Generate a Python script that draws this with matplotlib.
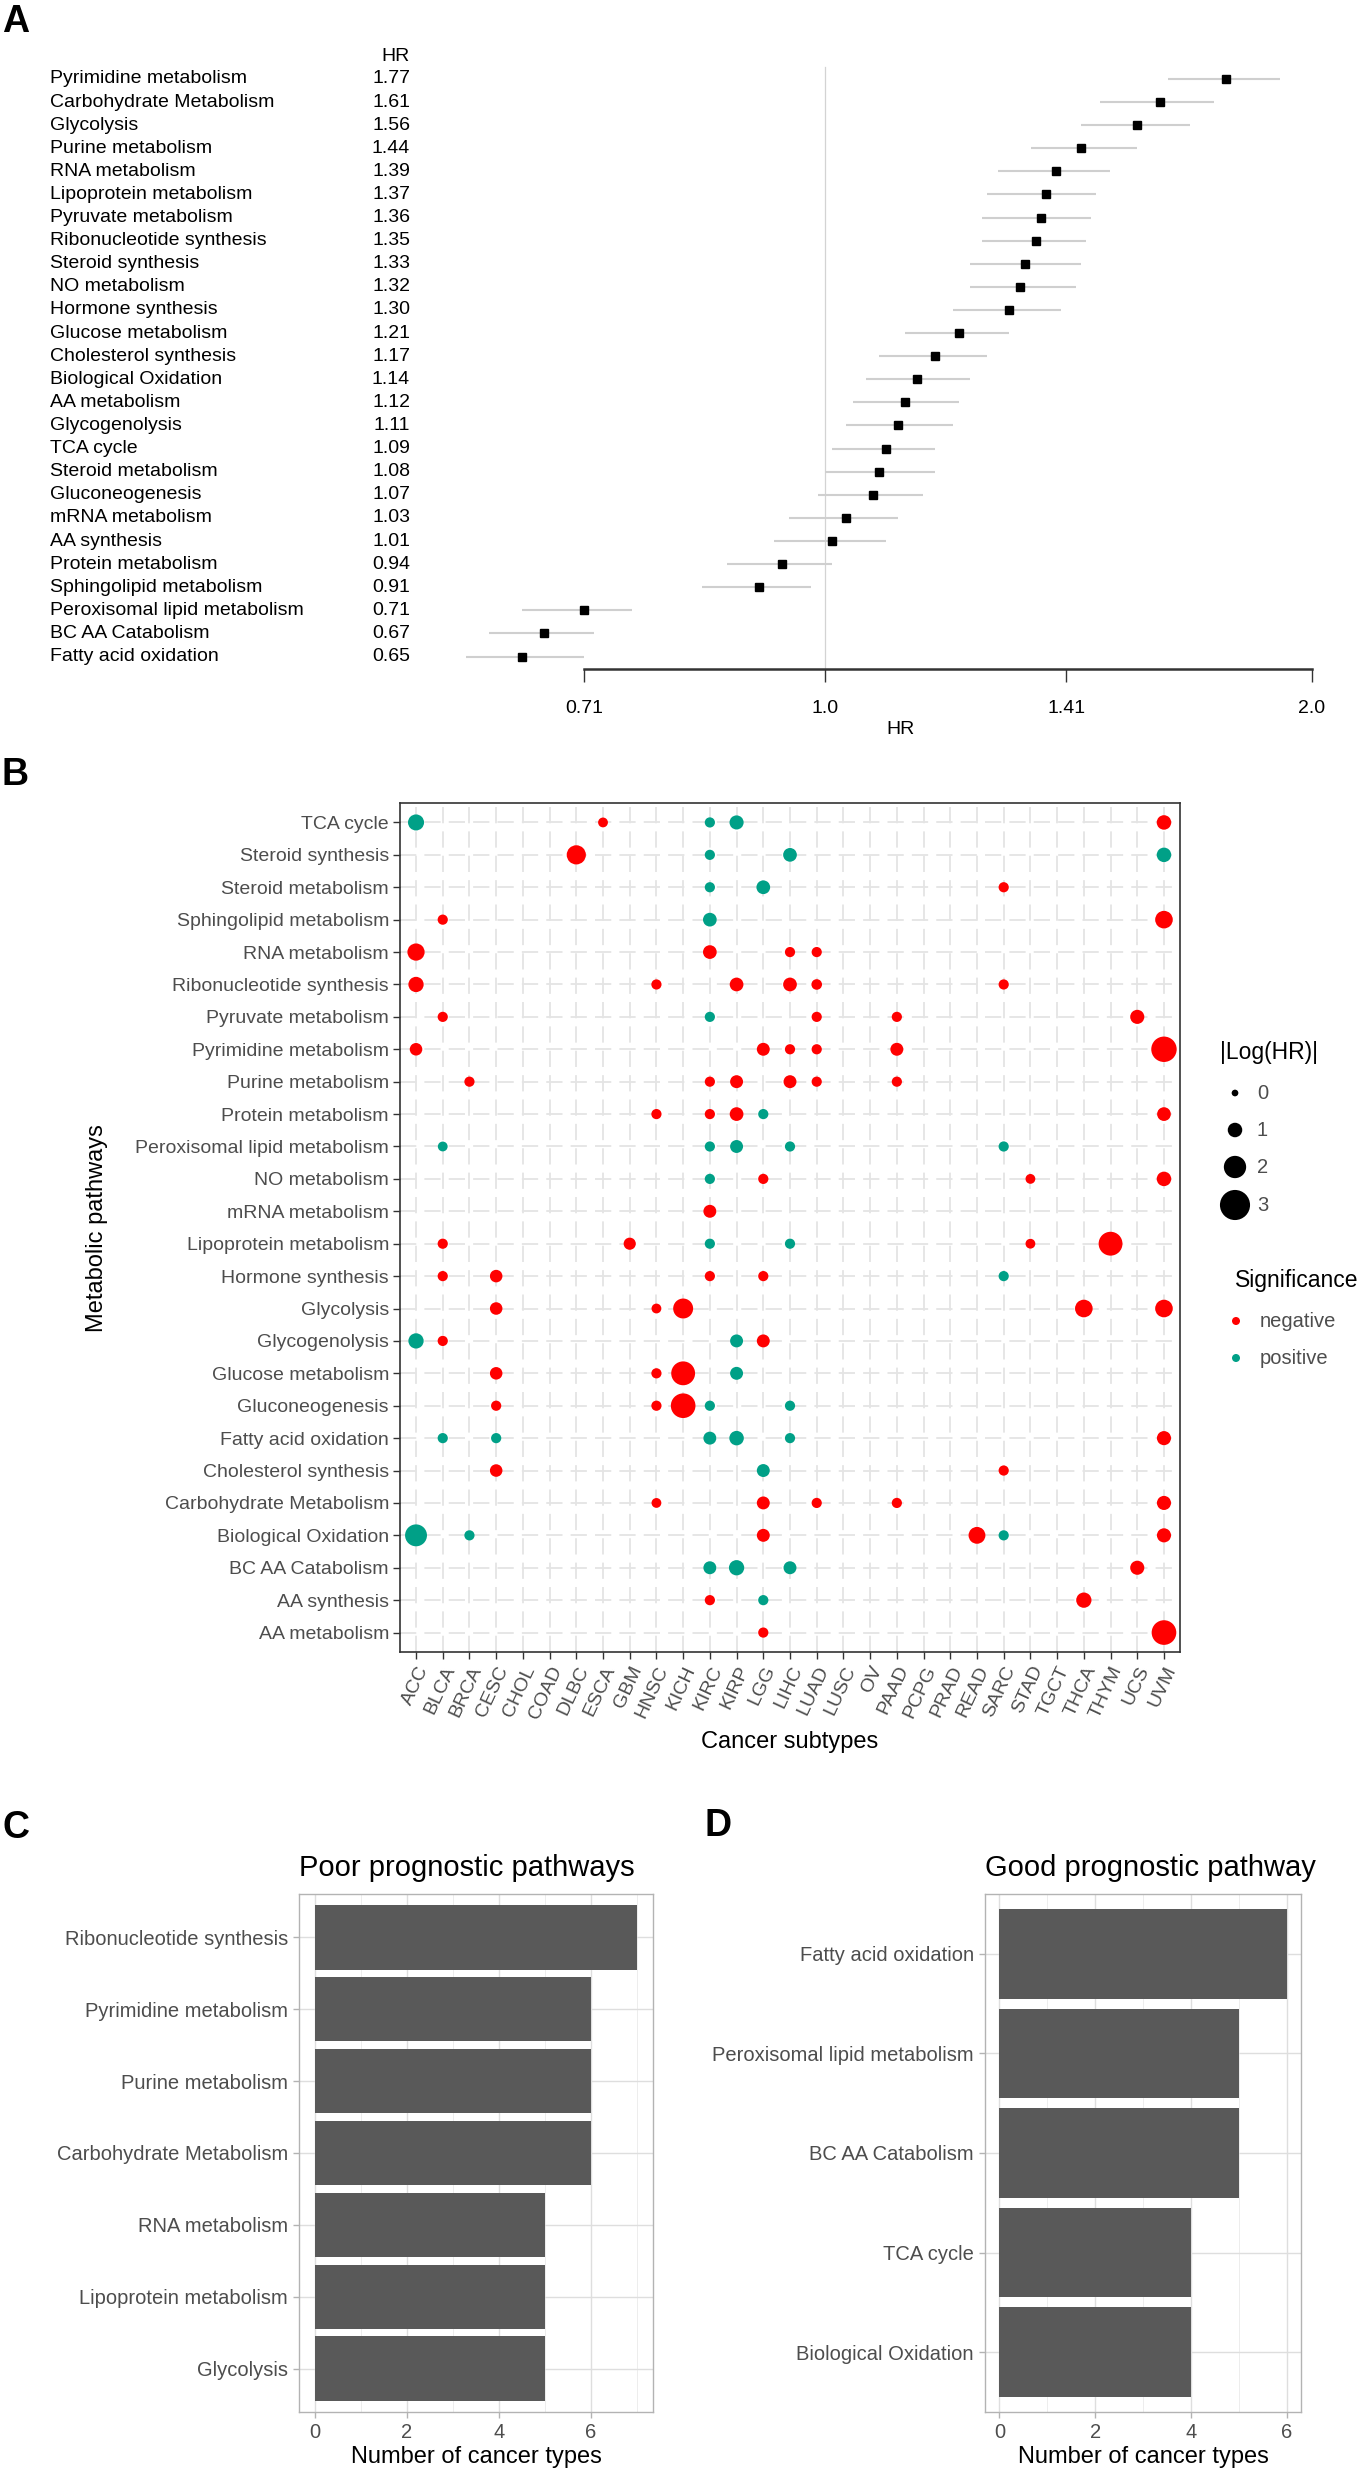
import numpy as np
import matplotlib
matplotlib.use("Agg")
import matplotlib.pyplot as plt
import matplotlib.transforms as mtransforms
from matplotlib.ticker import NullLocator, FixedLocator

plt.rcParams['font.family'] = ['Liberation Sans', 'DejaVu Sans']

# ======================
# Panel A: forest plot data
# ======================
hr_names = ["Pyrimidine metabolism", "Carbohydrate Metabolism", "Glycolysis", "Purine metabolism",
            "RNA metabolism", "Lipoprotein metabolism", "Pyruvate metabolism", "Ribonucleotide synthesis",
            "Steroid synthesis", "NO metabolism", "Hormone synthesis", "Glucose metabolism",
            "Cholesterol synthesis", "Biological Oxidation", "AA metabolism", "Glycogenolysis",
            "TCA cycle", "Steroid metabolism", "Gluconeogenesis", "mRNA metabolism", "AA synthesis",
            "Protein metabolism", "Sphingolipid metabolism", "Peroxisomal lipid metabolism",
            "BC AA Catabolism", "Fatty acid oxidation"]
hr_vals = [1.77, 1.61, 1.56, 1.44, 1.39, 1.37, 1.36, 1.35, 1.33, 1.32, 1.30, 1.21, 1.17,
           1.14, 1.12, 1.11, 1.09, 1.08, 1.07, 1.03, 1.01, 0.94, 0.91, 0.71, 0.67, 0.65]
hr_low = [1.63, 1.48, 1.44, 1.34, 1.28, 1.26, 1.25, 1.25, 1.23, 1.23, 1.20, 1.12, 1.08,
          1.06, 1.04, 1.03, 1.01, 1.00, 0.99, 0.95, 0.93, 0.87, 0.84, 0.65, 0.62, 0.60]
hr_high = [1.91, 1.74, 1.68, 1.56, 1.50, 1.47, 1.46, 1.45, 1.44, 1.43, 1.40, 1.30, 1.26,
           1.23, 1.21, 1.20, 1.17, 1.17, 1.15, 1.11, 1.09, 1.01, 0.98, 0.76, 0.72, 0.71]
hr_ticks = [0.71, 1.0, 1.41, 2.0]
hr_tick_labels = ["0.71", "1.0", "1.41", "2.0"]

# ======================
# Panel B: dot plot data
# ======================
cancers = ["ACC", "BLCA", "BRCA", "CESC", "CHOL", "COAD", "DLBC", "ESCA", "GBM", "HNSC",
           "KICH", "KIRC", "KIRP", "LGG", "LIHC", "LUAD", "LUSC", "OV", "PAAD", "PCPG",
           "PRAD", "READ", "SARC", "STAD", "TGCT", "THCA", "THYM", "UCS", "UVM"]
pathways = ["TCA cycle", "Steroid synthesis", "Steroid metabolism", "Sphingolipid metabolism",
            "RNA metabolism", "Ribonucleotide synthesis", "Pyruvate metabolism",
            "Pyrimidine metabolism", "Purine metabolism", "Protein metabolism",
            "Peroxisomal lipid metabolism", "NO metabolism", "mRNA metabolism",
            "Lipoprotein metabolism", "Hormone synthesis", "Glycolysis", "Glycogenolysis",
            "Glucose metabolism", "Gluconeogenesis", "Fatty acid oxidation",
            "Cholesterol synthesis", "Carbohydrate Metabolism", "Biological Oxidation",
            "BC AA Catabolism", "AA synthesis", "AA metabolism"]

dot_pathway = (["TCA cycle"] * 5 + ["Steroid synthesis"] * 4 + ["Steroid metabolism"] * 3
               + ["Sphingolipid metabolism"] * 3 + ["RNA metabolism"] * 4
               + ["Ribonucleotide synthesis"] * 6 + ["Pyruvate metabolism"] * 5
               + ["Pyrimidine metabolism"] * 6 + ["Purine metabolism"] * 6
               + ["Protein metabolism"] * 5 + ["Peroxisomal lipid metabolism"] * 5
               + ["NO metabolism"] * 4 + ["mRNA metabolism"] * 1
               + ["Lipoprotein metabolism"] * 6 + ["Hormone synthesis"] * 5
               + ["Glycolysis"] * 5 + ["Glycogenolysis"] * 4 + ["Glucose metabolism"] * 4
               + ["Gluconeogenesis"] * 5 + ["Fatty acid oxidation"] * 6
               + ["Cholesterol synthesis"] * 3 + ["Carbohydrate Metabolism"] * 5
               + ["Biological Oxidation"] * 6 + ["BC AA Catabolism"] * 4
               + ["AA synthesis"] * 3 + ["AA metabolism"] * 2)
dot_cancer = ["ACC", "ESCA", "KIRC", "KIRP", "UVM",
              "DLBC", "KIRC", "LIHC", "UVM",
              "KIRC", "LGG", "SARC",
              "BLCA", "KIRC", "UVM",
              "ACC", "KIRC", "LIHC", "LUAD",
              "ACC", "HNSC", "KIRP", "LIHC", "LUAD", "SARC",
              "BLCA", "KIRC", "LUAD", "PAAD", "UCS",
              "ACC", "LGG", "LIHC", "LUAD", "PAAD", "UVM",
              "BRCA", "KIRC", "KIRP", "LIHC", "LUAD", "PAAD",
              "HNSC", "KIRC", "KIRP", "LGG", "UVM",
              "BLCA", "KIRC", "KIRP", "LIHC", "SARC",
              "KIRC", "LGG", "STAD", "UVM",
              "KIRC",
              "BLCA", "GBM", "KIRC", "LIHC", "STAD", "THYM",
              "BLCA", "CESC", "KIRC", "LGG", "SARC",
              "CESC", "HNSC", "KICH", "THCA", "UVM",
              "ACC", "BLCA", "KIRP", "LGG",
              "CESC", "HNSC", "KICH", "KIRP",
              "CESC", "HNSC", "KICH", "KIRC", "LIHC",
              "BLCA", "CESC", "KIRC", "KIRP", "LIHC", "UVM",
              "CESC", "LGG", "SARC",
              "HNSC", "LGG", "LUAD", "PAAD", "UVM",
              "ACC", "BRCA", "LGG", "READ", "SARC", "UVM",
              "KIRC", "KIRP", "LIHC", "UCS",
              "KIRC", "LGG", "THCA",
              "LGG", "UVM"]
dot_loghr = [1.2, 0.4, 0.45, 0.95, 1.0,
             1.6, 0.45, 0.9, 1.0,
             0.45, 0.9, 0.45,
             0.45, 0.9, 1.4,
             1.35, 0.9, 0.45, 0.45,
             1.1, 0.45, 0.9, 0.9, 0.5, 0.45,
             0.45, 0.45, 0.45, 0.45, 0.95,
             0.75, 0.8, 0.45, 0.45, 0.8, 2.4,
             0.45, 0.45, 0.8, 0.8, 0.45, 0.45,
             0.45, 0.45, 0.9, 0.45, 0.9,
             0.4, 0.45, 0.8, 0.45, 0.45,
             0.45, 0.45, 0.4, 1.0,
             0.8,
             0.45, 0.7, 0.45, 0.45, 0.4, 2.2,
             0.45, 0.75, 0.45, 0.45, 0.45,
             0.75, 0.4, 1.7, 1.4, 1.4,
             1.1, 0.45, 0.8, 0.8,
             0.75, 0.45, 2.2, 0.8,
             0.45, 0.45, 2.3, 0.45, 0.45,
             0.45, 0.45, 0.8, 1.0, 0.45, 0.95,
             0.75, 0.8, 0.45,
             0.4, 0.8, 0.45, 0.45, 0.95,
             1.95, 0.45, 0.8, 1.3, 0.45, 0.95,
             0.8, 1.1, 0.8, 0.95,
             0.45, 0.45, 1.1,
             0.45, 2.3]
dot_sign = ["positive", "negative", "positive", "positive", "negative",
            "negative", "positive", "positive", "positive",
            "positive", "positive", "negative",
            "negative", "positive", "negative",
            "negative", "negative", "negative", "negative",
            "negative", "negative", "negative", "negative", "negative", "negative",
            "negative", "positive", "negative", "negative", "negative",
            "negative", "negative", "negative", "negative", "negative", "negative",
            "negative", "negative", "negative", "negative", "negative", "negative",
            "negative", "negative", "negative", "positive", "negative",
            "positive", "positive", "positive", "positive", "positive",
            "positive", "negative", "negative", "negative",
            "negative",
            "negative", "negative", "positive", "positive", "negative", "negative",
            "negative", "negative", "negative", "negative", "positive",
            "negative", "negative", "negative", "negative", "negative",
            "positive", "negative", "positive", "negative",
            "negative", "negative", "negative", "positive",
            "negative", "negative", "negative", "positive", "positive",
            "positive", "positive", "positive", "positive", "positive", "negative",
            "negative", "positive", "negative",
            "negative", "negative", "negative", "negative", "negative",
            "positive", "positive", "negative", "negative", "positive", "negative",
            "positive", "positive", "positive", "negative",
            "negative", "positive", "negative",
            "negative", "negative"]
size_legend_vals = [0, 1, 2, 3]
sign_levels = ["negative", "positive"]
sign_colors = {"negative": "#FF0000", "positive": "#00A087"}

# ======================
# Panels C / D: bar data
# ======================
poor_names = ["Ribonucleotide synthesis", "Pyrimidine metabolism", "Purine metabolism",
              "Carbohydrate Metabolism", "RNA metabolism", "Lipoprotein metabolism", "Glycolysis"]
poor_counts = [7, 6, 6, 6, 5, 5, 5]
good_names = ["Fatty acid oxidation", "Peroxisomal lipid metabolism", "BC AA Catabolism",
              "TCA cycle", "Biological Oxidation"]
good_counts = [6, 5, 5, 4, 4]

# ======================
# Figure
# ======================
W, H, DPI = 1365, 2481, 100
fig = plt.figure(figsize=(W / DPI, H / DPI), dpi=DPI)
GREY30 = "#4D4D4D"


def px_axes(left, top, right, bottom):
    return fig.add_axes([left / W, 1 - bottom / H, (right - left) / W, (bottom - top) / H])


def ptext(x, y, s, **kw):
    fig.text(x / W, 1 - y / H, s, **kw)


def dot_size(v):
    # ggplot-like size scale: diameter in px -> points^2
    return ((6.7 + 7.8 * np.asarray(v, dtype=float)) * 0.72) ** 2


# ---------- A ----------
ax_a = px_axes(450, 60, 1350, 669)
yy = np.arange(len(hr_names))
ax_a.set_xscale('log', base=2)
ax_a.set_xlim(2 ** -0.770, 2 ** 1.078)
ax_a.set_ylim(25.54, -0.82)
ax_a.axvline(1.0, ymin=0, ymax=0.988, color="#D3D3D3", lw=0.9, zorder=1)
ax_a.hlines(yy, hr_low, hr_high, color="#CFCFCF", lw=1.5, zorder=2)
ax_a.plot(hr_vals, yy, 's', color='black', markersize=5.3, zorder=3)
for sp in ["top", "right", "left"]:
    ax_a.spines[sp].set_visible(False)
ax_a.spines["bottom"].set_bounds(hr_ticks[0], hr_ticks[-1])
ax_a.spines["bottom"].set_linewidth(1.8)
ax_a.spines["bottom"].set_color("#333333")
ax_a.xaxis.set_major_locator(FixedLocator(hr_ticks))
ax_a.xaxis.set_minor_locator(NullLocator())
ax_a.set_xticklabels(hr_tick_labels)
ax_a.tick_params(axis='x', length=9.5, width=1, color="#333333", pad=13, labelsize=14)
ax_a.set_yticks([])
ax_a.set_xlabel("HR", fontsize=14, labelpad=3)

tr = mtransforms.blended_transform_factory(fig.transFigure, ax_a.transData)
for i, (name, v) in enumerate(zip(hr_names, hr_vals)):
    ax_a.text(50 / W, i, name, transform=tr, ha='left', va='center', fontsize=14)
    ax_a.text(410 / W, i, f"{v:.2f}", transform=tr, ha='right', va='center', fontsize=14)
ax_a.text(410 / W, -0.95, "HR", transform=tr, ha='right', va='center', fontsize=14)

# ---------- B ----------
ax_b = px_axes(400, 803, 1180, 1652)
xi = [cancers.index(c) for c in dot_cancer]
yi = [pathways.index(p) for p in dot_pathway]
cols = [sign_colors[s] for s in dot_sign]
ax_b.scatter(xi, yi, s=dot_size(dot_loghr), c=cols, edgecolors='none', zorder=3)
ax_b.set_xlim(-0.6, len(cancers) - 0.4)
ax_b.set_ylim(len(pathways) - 0.4, -0.6)
ax_b.set_xticks(range(len(cancers)))
ax_b.set_xticklabels(cancers, rotation=65, ha='right', va='top', rotation_mode='anchor')
ax_b.set_yticks(range(len(pathways)))
ax_b.set_yticklabels(pathways)
ax_b.set_axisbelow(True)
ax_b.grid(True, color="#E4E4E4", lw=1.3, linestyle=(0, (9, 4.5)))
for sp in ax_b.spines.values():
    sp.set_color("#333333")
    sp.set_linewidth(1.2)
ax_b.tick_params(axis='both', length=5, width=1, color="#333333", labelcolor=GREY30,
                 labelsize=14, pad=3)
ptext(97, 1228, "Metabolic pathways", rotation=90, ha='center', va='center', fontsize=17)
ptext(790, 1742, "Cancer subtypes", ha='center', va='center', fontsize=17)

# legend
ax_l = px_axes(1190, 1000, 1365, 1400)
ax_l.set_xlim(1190, 1365)
ax_l.set_ylim(1400, 1000)
ax_l.axis('off')
ax_l.text(1220, 1052, "|Log(HR)|", ha='left', va='center', fontsize=16.5)
leg_y = [1093, 1130, 1167, 1205]
ax_l.scatter([1235] * len(size_legend_vals), leg_y, s=dot_size(size_legend_vals),
             color='black', edgecolors='none', clip_on=False)
for v, y in zip(size_legend_vals, leg_y):
    ax_l.text(1257, y, str(v), ha='left', va='center', fontsize=14.5, color=GREY30)
ax_l.text(1235, 1280, "Significance", ha='left', va='center', fontsize=16.5)
for lev, y in zip(sign_levels, [1321, 1358]):
    ax_l.scatter([1236], [y], s=(8 * 0.72) ** 2, color=sign_colors[lev], edgecolors='none',
                 clip_on=False)
    ax_l.text(1260, y, lev, ha='left', va='center', fontsize=14.5, color=GREY30)


# ---------- C / D ----------
def bar_panel(ax, names, counts, title, minor):
    n = len(names)
    ax.barh(range(n), counts, height=0.9, color="#595959", zorder=2)
    ax.set_ylim(n - 0.4, -0.6)
    ax.set_xlim(-0.05 * max(counts), max(counts) * 1.05)
    ax.set_yticks(range(n))
    ax.set_yticklabels(names)
    ax.set_xticks([0, 2, 4, 6])
    ax.set_xticks(minor, minor=True)
    ax.set_axisbelow(True)
    ax.grid(True, which='major', color="#DEDEDE", lw=1.0)
    ax.grid(True, which='minor', axis='x', color="#EDEDED", lw=0.7)
    for sp in ax.spines.values():
        sp.set_color("#B3B3B3")
        sp.set_linewidth(1.0)
    ax.tick_params(axis='both', which='major', length=4, width=1, color="#B3B3B3",
                   labelcolor=GREY30, labelsize=14.5, pad=4)
    ax.tick_params(axis='x', which='minor', length=0)
    ax.set_title(title, loc='left', fontsize=21, pad=13)
    ax.set_xlabel("Number of cancer types", fontsize=17, labelpad=3)


ax_c = px_axes(299, 1894, 653, 2412)
bar_panel(ax_c, poor_names, poor_counts, "Poor prognostic pathways", [1, 3, 5, 7])
ax_d = px_axes(985, 1894, 1301, 2412)
bar_panel(ax_d, good_names, good_counts, "Good prognostic pathway", [1, 3, 5])

# panel letters
ptext(2, 4, "A", ha='left', va='top', fontsize=27, fontweight='bold')
ptext(2, 757, "B", ha='left', va='top', fontsize=27, fontweight='bold')
ptext(2, 1810, "C", ha='left', va='top', fontsize=27, fontweight='bold')
ptext(704, 1808, "D", ha='left', va='top', fontsize=27, fontweight='bold')

fig.savefig("out.png", dpi=DPI)
